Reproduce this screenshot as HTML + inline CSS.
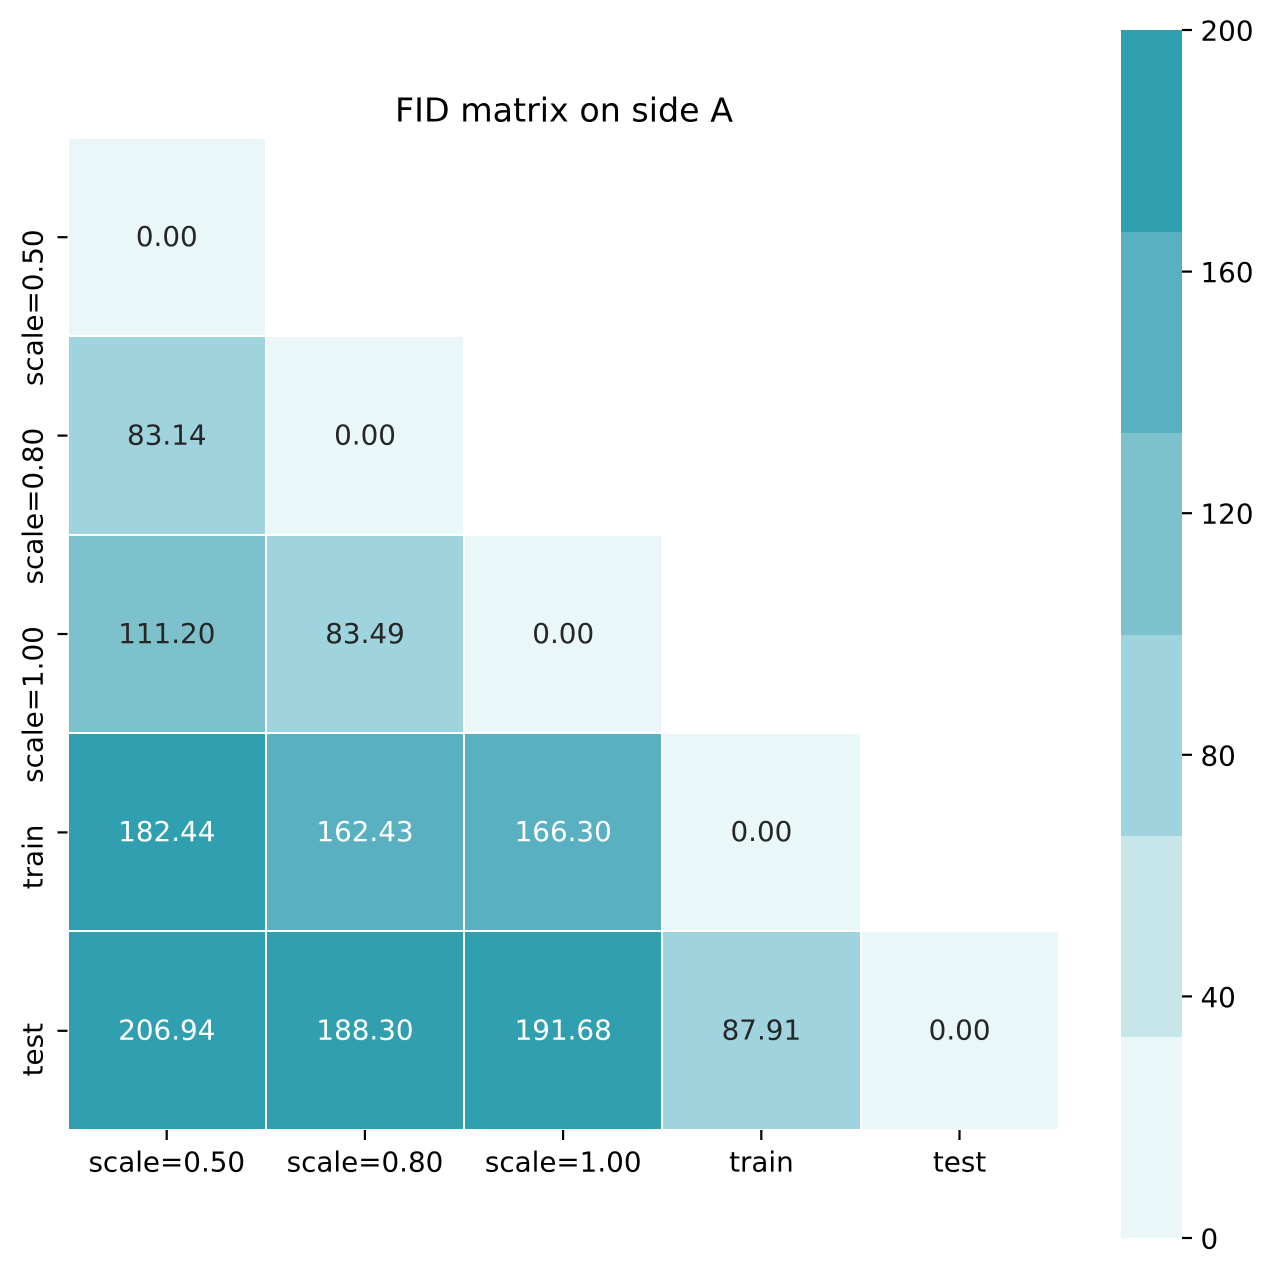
<!DOCTYPE html>
<html>
<head>
<meta charset="utf-8">
<style>
html,body{margin:0;padding:0;background:#fff;}
svg{display:block;}
text{font-family:"DejaVu Sans",sans-serif;}
</style>
</head>
<body>
<svg id="chart" width="1274" height="1275" viewBox="0 0 1274 1275" xmlns="http://www.w3.org/2000/svg">
<rect x="0" y="0" width="1274" height="1275" fill="#ffffff"/>
<text x="564" y="121.5" font-size="33.3" text-anchor="middle" fill="#000">FID matrix on side A</text>
<g id="cells"></g>
<g id="xaxis"></g>
<g id="yaxis"></g>
<g id="cbar"></g>
</svg>
<script>
const categories = ["scale=0.50", "scale=0.80", "scale=1.00", "train", "test"];
const row0 = [0.00];
const row1 = [83.14, 0.00];
const row2 = [111.20, 83.49, 0.00];
const row3 = [182.44, 162.43, 166.30, 0.00];
const row4 = [206.94, 188.30, 191.68, 87.91, 0.00];
const palette = ["#e9f7f9", "#c7e6ea", "#9fd3dd", "#7cc1cc", "#58b0c0", "#309fb0"];
const colorbarTicks = [0, 40, 80, 120, 160, 200];
const vmin = 0;
const vmax = 200;

const matrix = [row0, row1, row2, row3, row4];
const NS = "http://www.w3.org/2000/svg";
const plot = {left: 68, right: 1059, top: 138, bottom: 1130};
const bar = {left: 1121, right: 1182, top: 30, bottom: 1238};

function xScale(i) { return plot.left + (plot.right - plot.left) * i / categories.length; }
function yScale(i) { return plot.top + (plot.bottom - plot.top) * i / categories.length; }
function snap(p) { return Math.round(p - 0.2); }
function cbarY(v) { return bar.bottom - (bar.bottom - bar.top) * (v - vmin) / (vmax - vmin); }
function colorIndex(v) {
  const t = (v - vmin) / (vmax - vmin);
  return Math.max(0, Math.min(palette.length - 1, Math.floor(t * palette.length)));
}
function make(tag, attrs, parent, content) {
  const el = document.createElementNS(NS, tag);
  for (const k in attrs) el.setAttribute(k, attrs[k]);
  if (content !== undefined) el.textContent = content;
  parent.appendChild(el);
  return el;
}

const cellsG = document.getElementById("cells");
matrix.forEach(function (row, r) {
  row.forEach(function (v, c) {
    const idx = colorIndex(v);
    const x0 = snap(xScale(c)), x1 = snap(xScale(c + 1)), y0 = snap(yScale(r)), y1 = snap(yScale(r + 1));
    const rect = make("rect", {x: x0 + 1, y: y0 + 1, width: x1 - x0 - 2, height: y1 - y0 - 2, fill: palette[idx]}, cellsG);
    
    
    const label = make("text", {
      x: (xScale(c) + xScale(c + 1)) / 2 - 0.3, y: (yScale(r) + yScale(r + 1)) / 2 + 8.8, "font-size": 27.78, "text-anchor": "middle",
      fill: idx >= 4 ? "#ffffff" : "#262626"
    }, cellsG, v.toFixed(2));
    
    
  });
});

const xG = document.getElementById("xaxis");
const yG = document.getElementById("yaxis");
categories.forEach(function (name, i) {
  const cx = (xScale(i) + xScale(i + 1)) / 2;
  const cy = (yScale(i) + yScale(i + 1)) / 2;
  const xt = make("line", {x1: cx - 0.4, x2: cx - 0.4, y1: 1130, y2: 1140, stroke: "#000", "stroke-width": 2.2}, xG);
  
  
  const xl = make("text", {x: cx - 0.3, y: 1171.5, "font-size": 27.78, "text-anchor": "middle", fill: "#000"}, xG, name);
  
  
  const yt = make("line", {x1: 57.5, x2: 67.5, y1: cy, y2: cy, stroke: "#000", "stroke-width": 2.2}, yG);
  
  
  const yl = make("text", {x: 0, y: 0, "font-size": 27.78, "text-anchor": "end", fill: "#000",
    transform: "translate(42.5," + (cy - 7.8) + ") rotate(-90)"}, yG, name);
  
  
});

const cbarG = document.getElementById("cbar");
palette.forEach(function (color, i) {
  const lo = vmin + (vmax - vmin) * i / palette.length;
  const hi = vmin + (vmax - vmin) * (i + 1) / palette.length;
  const yTop = i === palette.length - 1 ? cbarY(hi) : Math.round(cbarY(hi) + 0.5);
  const yBot = i === 0 ? cbarY(lo) : Math.round(cbarY(lo) + 0.5);
  const seg = make("rect", {x: bar.left, y: yTop, width: bar.right - bar.left, height: yBot - yTop, fill: color}, cbarG);
  
  
});
colorbarTicks.forEach(function (v) {
  const y = cbarY(v);
  const t = make("line", {x1: bar.right, x2: bar.right + 10, y1: y, y2: y, stroke: "#000", "stroke-width": 2.2}, cbarG);
  
  
  const l = make("text", {x: 1200.5, y: y + 10.5, "font-size": 27.78, fill: "#000"}, cbarG, String(v));
  
  
});
</script>
</body>
</html>
